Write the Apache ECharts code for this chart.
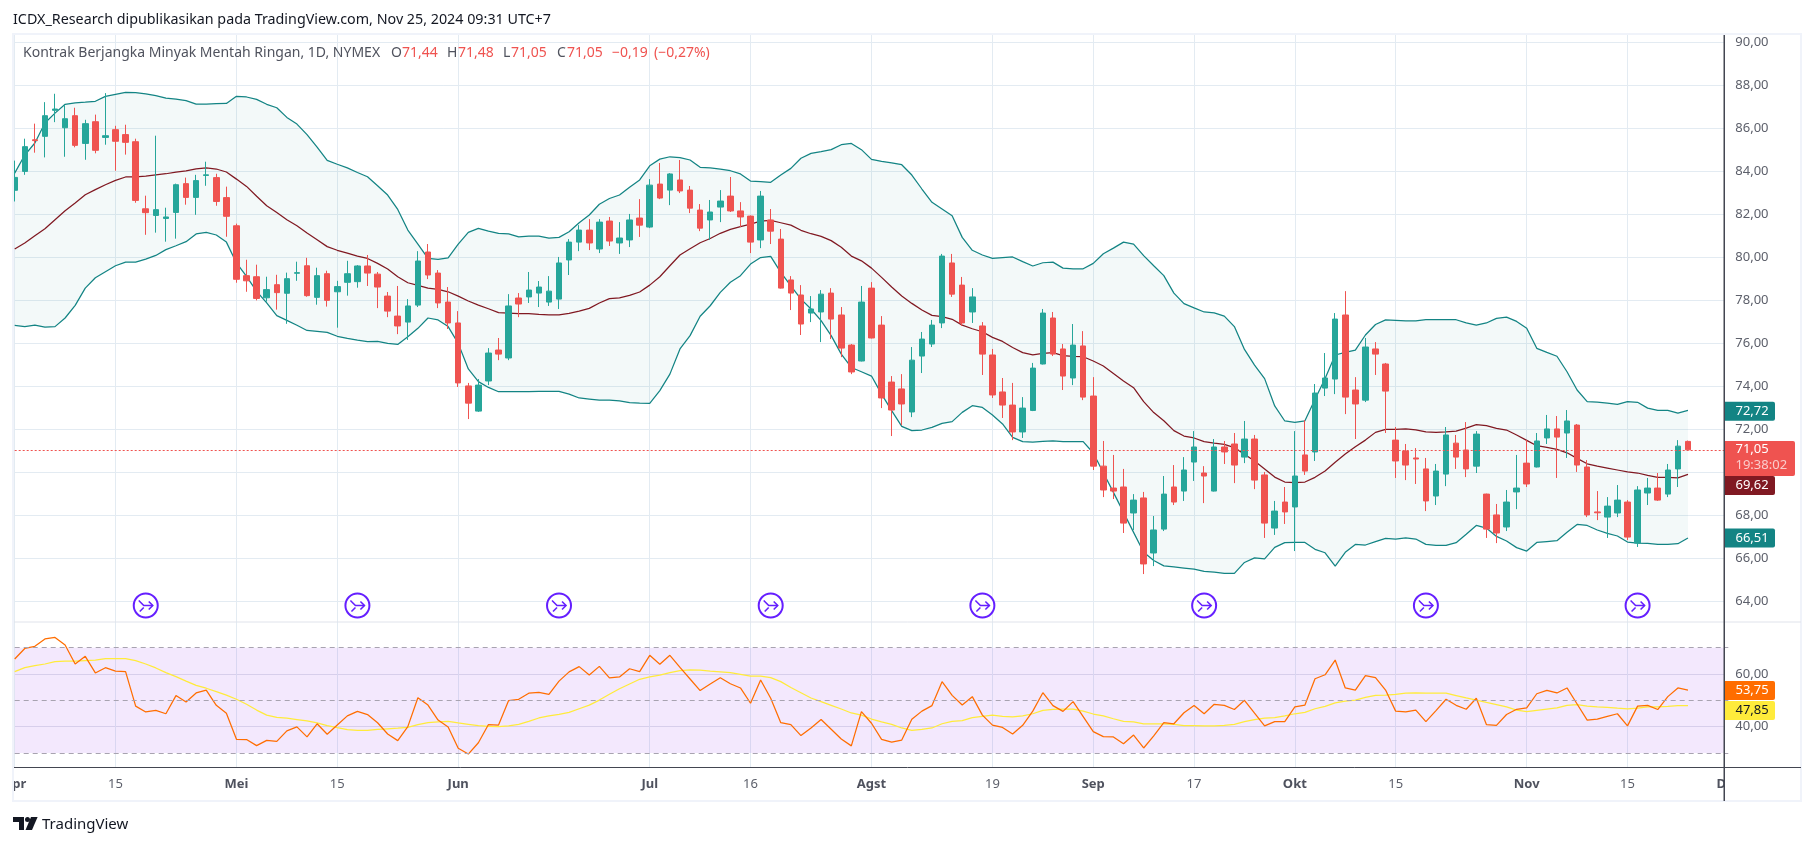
<!DOCTYPE html>
<html><head><meta charset="utf-8">
<style>html,body{margin:0;padding:0;background:#fff}#c{width:1814px;height:846px}</style>
<script src="https://cdn.jsdelivr.net/npm/echarts@6/dist/echarts.min.js"></script>
</head><body><div id="c"></div>
<script>
const categories = ['04-01','04-02','04-03','04-04','04-05','04-08','04-09','04-10','04-11','04-12','04-15','04-16','04-17','04-18','04-19','04-22','04-23','04-24','04-25','04-26','04-29','04-30','05-01','05-02','05-03','05-06','05-07','05-08','05-09','05-10','05-13','05-14','05-15','05-16','05-17','05-20','05-21','05-22','05-23','05-24','05-28','05-29','05-30','05-31','06-03','06-04','06-05','06-06','06-07','06-10','06-11','06-12','06-13','06-14','06-17','06-18','06-20','06-21','06-24','06-25','06-26','06-27','06-28','07-01','07-02','07-03','07-05','07-08','07-09','07-10','07-11','07-12','07-15','07-16','07-17','07-18','07-19','07-22','07-23','07-24','07-25','07-26','07-29','07-30','07-31','08-01','08-02','08-05','08-06','08-07','08-08','08-09','08-12','08-13','08-14','08-15','08-16','08-19','08-20','08-21','08-22','08-23','08-26','08-27','08-28','08-29','08-30','09-03','09-04','09-05','09-06','09-09','09-10','09-11','09-12','09-13','09-16','09-17','09-18','09-19','09-20','09-23','09-24','09-25','09-26','09-27','09-30','10-01','10-02','10-03','10-04','10-07','10-08','10-09','10-10','10-11','10-14','10-15','10-16','10-17','10-18','10-21','10-22','10-23','10-24','10-25','10-28','10-29','10-30','10-31','11-01','11-04','11-05','11-06','11-07','11-08','11-11','11-12','11-13','11-14','11-15','11-18','11-19','11-20','11-21','11-22','11-25','11-26','11-27','11-29','12-02'];
const opens = [83.12,84.00,85.47,85.63,86.84,86.03,86.59,85.30,86.31,85.58,85.94,85.71,85.38,82.26,81.95,81.81,82.09,83.43,82.79,83.81,83.71,82.78,81.47,79.15,79.10,78.12,78.73,78.33,79.26,79.61,78.14,79.24,78.40,78.84,78.87,79.60,79.22,78.20,77.27,76.99,77.78,80.25,79.27,77.92,76.95,74.02,72.85,74.25,75.69,75.32,78.11,78.16,78.34,77.92,78.06,79.88,80.71,81.27,80.39,81.69,80.67,80.81,81.83,81.41,83.41,83.13,83.60,83.13,82.20,81.74,82.34,82.85,82.16,81.92,80.81,81.74,80.85,78.95,78.25,77.41,77.46,78.34,77.32,75.92,75.18,78.57,76.85,74.20,73.88,72.81,75.41,75.97,76.95,79.74,78.71,77.46,76.81,75.46,73.74,73.13,71.88,72.88,75.04,77.18,75.74,74.39,75.88,73.55,70.29,69.27,69.32,68.11,68.81,66.25,67.36,69.32,69.13,70.48,69.97,69.13,71.18,71.32,70.71,71.55,69.88,67.41,68.62,68.39,70.81,70.95,73.92,74.34,77.32,73.83,73.36,75.74,75.04,71.50,70.99,70.67,70.16,68.90,69.92,71.36,71.04,70.29,68.99,68.02,67.46,69.09,70.43,70.25,71.60,72.02,71.83,72.20,70.25,68.16,67.92,68.11,68.62,66.71,69.04,69.27,68.99,70.16,71.44];
const highs = [84.50,85.52,86.22,87.22,87.61,87.10,86.96,86.40,86.64,87.64,86.12,86.17,85.52,82.87,85.66,82.31,83.43,83.71,83.84,84.45,83.89,83.29,81.57,79.89,79.66,79.10,79.19,79.29,79.80,79.98,79.52,79.38,78.91,79.84,79.64,80.11,79.32,78.39,78.67,78.06,80.29,80.62,79.41,78.62,77.50,74.16,74.34,75.78,76.25,78.29,78.34,79.32,78.90,79.13,80.02,80.85,81.50,81.78,81.78,81.88,81.64,82.02,82.71,83.64,84.39,83.92,84.53,83.32,82.48,82.67,83.13,83.74,82.57,81.95,83.09,82.25,81.32,79.13,78.71,78.20,78.48,78.57,77.69,75.97,78.67,78.85,77.27,74.48,74.57,75.83,76.53,77.09,80.16,80.16,79.09,78.57,76.99,75.74,74.39,74.16,73.50,75.09,77.60,77.46,75.97,76.90,76.57,74.43,71.46,70.81,70.16,68.99,69.09,67.97,69.83,70.34,70.71,71.92,70.29,71.55,71.46,71.83,72.39,71.74,70.02,68.67,69.32,71.92,72.43,74.11,75.55,77.41,78.43,74.43,76.25,76.06,75.09,72.11,71.32,71.13,70.67,70.39,72.11,71.74,72.34,71.92,69.01,68.53,69.18,70.81,71.50,71.83,72.67,72.62,72.90,72.25,70.57,69.13,68.85,69.41,68.71,69.36,69.74,69.97,70.39,71.50,71.48];
const lows = [82.60,83.84,84.87,84.65,86.29,84.68,85.12,84.54,84.84,85.24,84.03,84.78,82.54,81.05,81.15,80.73,80.87,82.45,81.98,83.33,82.40,80.96,78.82,78.40,78.00,77.94,77.57,76.91,78.91,78.17,77.80,77.71,76.73,78.22,78.59,78.67,77.64,77.22,76.43,76.16,77.69,78.99,77.64,76.67,73.97,72.48,72.81,74.06,75.22,75.22,77.22,77.88,77.69,77.74,77.60,79.18,80.29,80.34,80.20,80.53,80.16,80.48,80.95,81.36,82.71,82.43,82.99,82.06,81.22,80.81,81.64,82.11,81.41,80.20,80.43,80.62,78.55,77.55,76.39,76.99,76.06,76.20,75.36,74.57,75.16,76.23,72.99,71.69,72.20,72.57,74.62,75.83,76.71,78.16,76.81,76.95,74.53,73.46,72.53,71.50,71.60,72.85,75.02,75.41,73.83,74.06,73.36,70.11,68.85,68.76,67.18,67.32,65.27,65.64,67.27,68.48,68.67,69.60,68.57,69.11,70.39,69.50,70.43,69.22,66.95,67.09,67.60,66.34,69.88,70.53,73.55,73.64,72.71,71.55,73.27,74.53,71.83,69.74,69.64,69.46,68.20,68.48,69.36,70.16,69.78,69.97,66.95,66.71,67.27,68.29,69.32,70.23,71.32,69.74,70.67,70.02,67.92,67.78,66.95,67.92,66.85,66.53,68.48,68.67,68.85,69.32,71.05];
const closes = [83.72,85.15,85.43,86.59,86.90,86.45,85.21,86.22,84.98,85.66,85.40,85.35,82.65,82.08,82.22,81.88,83.38,82.79,83.57,83.84,82.60,81.91,78.98,78.91,78.09,78.50,78.36,79.01,79.29,78.22,79.15,78.00,78.64,79.24,79.60,79.27,78.62,77.50,76.81,77.74,79.83,79.18,77.88,76.95,74.16,73.22,74.06,75.55,75.50,77.74,77.83,78.48,78.62,78.43,79.74,80.71,81.27,80.67,81.64,80.76,80.90,81.74,81.50,83.36,82.76,83.88,83.09,82.29,81.36,82.11,82.62,82.16,81.88,80.71,82.85,81.22,78.57,78.34,76.90,77.60,78.29,77.13,75.78,74.67,77.92,76.25,73.46,72.90,73.18,75.22,76.20,76.85,80.06,78.29,76.95,78.16,75.50,73.60,73.13,71.88,72.99,74.85,77.41,75.50,74.48,75.92,73.50,70.29,69.18,69.13,67.64,68.71,65.74,67.32,68.99,68.62,70.11,71.18,69.83,71.18,70.95,70.34,71.55,69.64,67.64,68.20,68.16,69.83,70.06,73.69,74.39,77.13,73.50,73.18,75.83,75.50,73.78,70.53,70.34,70.62,68.67,70.06,71.74,70.71,70.16,71.78,67.36,67.18,68.62,69.27,69.46,71.46,72.02,71.64,72.39,70.34,68.02,68.12,68.43,68.71,66.99,69.18,69.27,68.71,70.11,71.22,71.05];
const bbUpper = [83.92,84.76,85.32,86.25,86.71,87.12,87.19,87.22,87.26,87.49,87.58,87.67,87.66,87.60,87.52,87.41,87.36,87.29,87.13,87.13,87.15,87.16,87.49,87.46,87.35,87.12,86.96,86.51,86.20,85.71,85.13,84.51,84.33,84.16,83.95,83.75,83.33,82.90,82.23,81.27,80.62,79.95,79.91,79.98,80.62,81.16,81.35,81.22,81.12,81.09,80.95,80.99,80.99,80.90,80.93,81.19,81.61,81.97,82.47,82.74,82.90,83.26,83.60,84.26,84.57,84.68,84.64,84.53,84.19,84.16,84.11,84.03,83.88,83.55,83.52,83.49,83.83,84.14,84.61,84.84,84.92,85.01,85.24,85.30,85.01,84.56,84.47,84.40,84.31,83.83,83.18,82.56,82.25,81.94,80.93,80.33,80.11,79.95,79.99,80.02,79.80,79.60,79.75,79.78,79.50,79.47,79.47,79.72,80.17,80.43,80.71,80.62,80.08,79.61,79.15,78.34,77.85,77.65,77.46,77.42,77.27,76.78,75.72,74.99,74.36,73.09,72.39,72.33,72.40,73.40,74.37,75.46,75.58,75.69,76.39,76.88,77.09,77.07,77.05,77.05,77.10,77.10,77.10,77.10,76.95,76.85,76.95,77.16,77.22,77.02,76.70,75.77,75.58,75.40,74.68,73.83,73.29,73.27,73.22,73.16,73.29,73.26,72.99,72.88,72.88,72.76,72.88];
const bbMid = [80.39,80.67,81.01,81.33,81.75,82.17,82.53,82.91,83.15,83.38,83.58,83.74,83.74,83.78,83.84,83.89,83.97,84.02,84.12,84.16,84.11,83.97,83.64,83.30,82.84,82.40,82.09,81.75,81.47,81.13,80.82,80.50,80.33,80.20,80.06,79.95,79.72,79.46,79.10,78.82,78.70,78.57,78.51,78.40,78.20,77.97,77.78,77.61,77.43,77.41,77.38,77.38,77.35,77.33,77.33,77.40,77.50,77.63,77.88,78.08,78.12,78.23,78.39,78.71,79.10,79.61,80.11,80.40,80.68,80.88,81.12,81.30,81.43,81.55,81.69,81.72,81.61,81.50,81.26,81.10,80.98,80.78,80.47,80.06,79.84,79.50,79.07,78.62,78.20,77.86,77.55,77.30,77.24,77.12,76.85,76.68,76.54,76.28,76.09,75.81,75.57,75.47,75.53,75.57,75.43,75.40,75.38,75.18,74.95,74.60,74.25,73.94,73.29,72.78,72.40,71.94,71.69,71.60,71.43,71.36,71.30,71.15,70.84,70.53,70.16,69.78,69.55,69.52,69.55,69.77,70.06,70.47,70.85,71.19,71.50,71.86,72.00,72.00,72.02,71.98,71.88,71.86,71.88,71.92,72.06,72.22,72.17,72.05,71.97,71.74,71.49,71.24,71.16,71.07,70.91,70.65,70.40,70.29,70.20,70.11,70.02,69.97,69.86,69.77,69.77,69.74,69.91];
const bbLower = [76.84,76.78,76.85,76.76,76.78,77.18,77.77,78.57,79.05,79.33,79.61,79.78,79.78,79.92,80.09,80.36,80.54,80.73,81.09,81.16,81.04,80.71,79.74,79.12,78.42,77.88,77.29,77.07,76.84,76.60,76.56,76.51,76.33,76.23,76.15,76.08,76.09,76.00,75.95,76.31,76.70,77.18,77.09,76.78,76.00,74.81,74.22,73.95,73.75,73.75,73.75,73.75,73.77,73.77,73.77,73.64,73.46,73.41,73.36,73.36,73.32,73.24,73.22,73.21,73.80,74.57,75.74,76.36,77.26,77.75,78.37,78.84,79.15,79.69,79.99,80.05,79.30,78.68,78.06,77.60,77.06,76.36,75.50,74.88,74.68,74.48,73.64,72.87,72.14,71.94,71.97,72.09,72.28,72.36,72.79,73.10,73.02,72.67,72.25,71.63,71.43,71.41,71.44,71.46,71.43,71.43,71.43,70.90,69.98,69.07,68.14,67.21,66.28,65.90,65.65,65.60,65.55,65.50,65.39,65.36,65.30,65.30,65.81,66.02,65.98,66.51,66.73,66.74,66.74,66.42,66.26,65.64,66.28,66.65,66.62,66.78,66.93,66.90,66.95,66.90,66.65,66.60,66.60,66.73,67.12,67.53,67.41,67.02,66.81,66.50,66.34,66.74,66.78,66.82,67.21,67.58,67.53,67.32,67.16,67.04,66.76,66.71,66.70,66.65,66.65,66.68,66.95];
const rsiLine = [65.7,69.7,70.5,73.3,73.9,71.0,63.8,66.7,60.4,62.4,61.1,60.9,47.8,45.6,46.2,44.9,51.8,49.4,52.8,53.9,48.1,45.1,35.2,35.1,32.8,34.8,34.4,38.4,39.9,36.1,41.1,37.1,40.6,44.1,45.8,44.6,41.5,37.2,34.7,40.0,51.0,48.2,42.5,39.9,31.8,29.6,33.9,40.8,40.6,49.9,50.4,52.7,53.0,52.3,57.3,60.8,62.8,59.6,62.9,58.5,58.9,62.0,60.9,67.1,63.7,67.1,62.5,58.1,53.7,56.2,58.6,56.3,54.7,48.9,57.7,50.8,41.5,40.8,36.6,39.5,42.7,39.0,35.3,32.7,45.7,41.3,35.2,34.1,34.9,42.8,45.9,48.0,57.1,51.9,48.2,51.4,44.4,40.6,39.7,37.2,40.5,45.9,52.9,48.0,45.8,49.5,43.8,38.1,36.2,36.1,33.5,36.8,31.9,36.5,41.5,41.1,45.3,48.0,44.9,48.5,48.1,46.5,50.0,45.1,40.3,41.9,41.9,47.5,48.2,58.2,59.7,65.3,54.7,53.9,59.4,58.6,53.9,45.9,45.6,46.3,41.9,46.1,50.4,48.1,46.6,50.8,40.8,40.5,44.6,46.6,47.1,52.5,53.8,52.8,54.7,48.6,42.5,42.9,43.9,44.9,40.3,47.8,48.1,46.5,51.4,54.7,53.9];
const rsiMa = [60.9,62.4,63.2,63.8,64.7,64.9,64.9,65.1,65.3,65.8,65.8,65.8,65.1,63.8,62.3,60.5,59.0,57.3,55.7,54.6,53.3,52.0,50.4,48.5,46.3,44.4,43.5,43.2,42.7,42.2,41.4,40.4,39.6,38.9,38.6,38.6,39.0,39.2,39.4,39.7,40.8,41.5,41.8,42.0,41.4,40.9,40.4,40.1,40.0,40.3,40.9,42.0,43.3,44.1,44.7,45.4,46.8,48.2,50.1,52.3,54.4,56.2,58.0,58.9,59.6,60.5,61.3,61.6,61.5,61.1,60.8,60.5,59.9,59.2,59.2,58.6,57.1,54.9,52.9,50.9,49.5,48.1,46.7,45.2,44.4,42.9,41.8,40.9,39.5,38.6,39.0,39.5,41.1,42.0,42.3,43.4,43.9,44.4,43.9,43.7,44.1,44.9,46.2,46.6,46.7,46.7,45.9,44.8,44.1,43.0,42.0,41.8,41.1,41.1,41.1,40.9,40.4,40.4,40.3,40.3,40.5,40.9,41.9,42.7,43.2,43.4,44.1,44.9,45.4,46.8,47.7,49.0,49.7,50.1,51.1,51.9,52.0,52.3,52.7,52.8,52.7,52.7,52.7,51.8,50.9,50.1,49.2,48.4,47.5,46.3,45.7,46.2,46.7,47.1,48.1,48.4,47.8,47.5,47.3,47.0,46.8,47.0,47.5,47.5,47.7,48.0,48.0];
const tickCats = ['04-01','04-15','05-01','05-15','06-03','07-01','07-16','08-01','08-19','09-03','09-17','10-01','10-15','11-01','11-15','12-02'];
const tickTexts = ['Apr','15','Mei','15','Jun','Jul','16','Agst','19','Sep','17','Okt','15','Nov','15','Des'];
const priceTicks = [64,66,68,70,72,74,76,78,80,82,84,86,88,90];
const rsiTicks = [40,60];
const rsiLevels = [70,50,30];
const lastPrice = 71.05;
const eventCats = ['04-18','05-17','06-17','07-18','08-16','09-18','10-18','11-18'];
const eventLevel = 63.81;

const FONT = 'Noto Sans';
const TXT = '#5d606b';
const commaFmt = v => Number(v).toFixed(2).replace('.', ',');
const tickIdx = tickCats.map(c => categories.indexOf(c));
const isTick = i => tickIdx.indexOf(i) >= 0;
const candleData = opens.map((o, i) => [o, closes[i], lows[i], highs[i]]);
const bbDiff = bbUpper.map((u, i) => +(u - bbLower[i]).toFixed(2));

const GL = 14.7, BAR = 10.08, GW = BAR * (categories.length - 1);
const GRIDC = '#e3ebf2';
const LW = 1.25;
const gridLine = { show: true, interval: (i) => isTick(i), lineStyle: { color: GRIDC, width: 1 } };
const tag = (y, h, w, bg, fg, txt) => [
  { type: 'rect', z: 20, shape: { x: 1725, y: y - h / 2, width: w, height: h, r: [0, 2, 2, 0] }, style: { fill: bg } },
  { type: 'text', z: 21, x: 1735.5, y: y, style: { text: txt, fill: fg, font: '13px ' + JSON.stringify(FONT), verticalAlign: 'middle' } }
];
const legendText = (x, txt, col) => ({ type: 'text', z: 8, x: x, y: 53, style: { text: txt, fill: col, font: '14px "Noto Sans"', verticalAlign: 'middle' } });
const GRAY = '#50535e', RED = '#ef5350';

const chart = echarts.init(document.getElementById('c'), null, { renderer: 'canvas', width: 1814, height: 846 });
chart.setOption({
  animation: false,
  backgroundColor: '#ffffff',
  textStyle: { fontFamily: FONT },
  tooltip: { show: false },
  grid: [
    { left: GL, top: 34, width: GW, height: 588 },
    { left: GL, top: 622, width: GW, height: 145 }
  ],
  xAxis: [
    { type: 'category', gridIndex: 0, data: categories, boundaryGap: false,
      axisLine: { show: false }, axisTick: { show: false }, axisLabel: { show: false }, splitLine: gridLine },
    { type: 'category', gridIndex: 1, data: categories, boundaryGap: false,
      axisLine: { show: false }, axisTick: { show: false }, splitLine: gridLine,
      axisLabel: { show: true, interval: (i) => isTick(i), margin: 11, hideOverlap: false, showMinLabel: true, showMaxLabel: true,
        formatter: (v) => { const k = tickCats.indexOf(v); if (k < 0) return ''; const t = tickTexts[k]; return /^\d/.test(t) ? '{d|' + t + '}' : '{m|' + t + '}'; },
        rich: { d: { color: TXT, fontSize: 13, fontFamily: FONT }, m: { color: '#4f525e', fontSize: 13, fontWeight: 'bold', fontFamily: FONT } } } }
  ],
  yAxis: [
    { type: 'value', gridIndex: 0, min: 63.04, max: 90.39, position: 'right', scale: true,
      axisLine: { show: false }, axisLabel: { show: false },
      axisTick: { show: false, customValues: priceTicks },
      splitLine: { show: true, lineStyle: { color: GRIDC, width: 1 } } },
    { type: 'value', gridIndex: 0, min: 63.04, max: 90.39, position: 'right', z: 10, scale: true,
      axisLine: { show: false }, splitLine: { show: false }, axisTick: { show: false, customValues: priceTicks },
      axisLabel: { show: true, customValues: priceTicks, margin: 7, color: TXT, fontSize: 13, fontFamily: FONT, align: 'left', formatter: commaFmt, showMinLabel: true, showMaxLabel: true } },
    { type: 'value', gridIndex: 1, min: 24.68, max: 79.75, position: 'right', scale: true,
      axisLine: { show: false }, axisLabel: { show: false },
      axisTick: { show: false, customValues: rsiTicks },
      splitLine: { show: true, lineStyle: { color: '#e0e3eb', width: 1 } } },
    { type: 'value', gridIndex: 1, min: 24.68, max: 79.75, position: 'right', z: 10, scale: true,
      axisLine: { show: false }, splitLine: { show: false }, axisTick: { show: false, customValues: rsiTicks },
      axisLabel: { show: true, customValues: rsiTicks, margin: 7, color: TXT, fontSize: 13, fontFamily: FONT, align: 'left', formatter: commaFmt } }
  ],
  series: [
    { name: 'BB base', type: 'line', xAxisIndex: 0, yAxisIndex: 0, stack: 'bb', data: bbLower, symbol: 'none', lineStyle: { width: 0 }, silent: true, z: 1 },
    { name: 'BB fill', type: 'line', xAxisIndex: 0, yAxisIndex: 0, stack: 'bb', data: bbDiff, symbol: 'none', lineStyle: { width: 0 }, areaStyle: { color: 'rgba(19,132,132,0.05)', opacity: 1 }, silent: true, z: 1 },
    { name: 'BB atas', type: 'line', xAxisIndex: 0, yAxisIndex: 0, data: bbUpper, symbol: 'none', lineStyle: { color: '#138484', width: LW }, silent: true, z: 2 },
    { name: 'BB bawah', type: 'line', xAxisIndex: 0, yAxisIndex: 0, data: bbLower, symbol: 'none', lineStyle: { color: '#138484', width: LW }, silent: true, z: 2 },
    { name: 'BB tengah', type: 'line', xAxisIndex: 0, yAxisIndex: 0, data: bbMid, symbol: 'none', lineStyle: { color: '#801922', width: LW }, silent: true, z: 2 },
    { name: 'Harga', type: 'candlestick', xAxisIndex: 0, yAxisIndex: 0, data: candleData, barWidth: 6, silent: true, z: 3,
      itemStyle: { color: '#26a69a', color0: '#ef5350', borderColor: '#26a69a', borderColor0: '#ef5350', borderWidth: 1 },
      markLine: { silent: true, symbol: 'none', label: { show: false }, animation: false,
        lineStyle: { color: '#ef5350', type: [2, 2], width: 1 }, data: [{ yAxis: lastPrice }] } },
    { name: 'Peristiwa', type: 'custom', xAxisIndex: 0, yAxisIndex: 0, silent: true, z: 4, clip: false,
      data: eventCats.map(c => [categories.indexOf(c), eventLevel]), encode: { x: 0, y: 1 },
      renderItem: (p, api) => {
        const c = api.coord([api.value(0), api.value(1)]);
        const s = { stroke: '#651fff', fill: 'none', lineWidth: 1.6 };
        return { type: 'group', x: c[0], y: c[1], children: [
          { type: 'circle', shape: { cx: 0, cy: 0, r: 12 }, style: { stroke: '#651fff', fill: '#ffffff', lineWidth: 2 } },
          { type: 'polyline', shape: { points: [[-7, -5], [-2, 0], [7, 0]] }, style: s },
          { type: 'polyline', shape: { points: [[3, -4], [7, 0], [3, 4]] }, style: s },
          { type: 'polyline', shape: { points: [[-6, 6], [-2, 2]] }, style: s }
        ] };
      } },
    { name: 'RSI MA', type: 'line', xAxisIndex: 1, yAxisIndex: 2, data: rsiMa, symbol: 'none', lineStyle: { color: '#ffeb3b', width: LW }, silent: true, z: 3,
      markArea: { silent: true, itemStyle: { color: 'rgba(140,30,240,0.1)' }, data: [[{ yAxis: rsiLevels[0] }, { yAxis: rsiLevels[2] }]] },
      markLine: { silent: true, symbol: 'none', label: { show: false }, lineStyle: { color: '#a8a3b0', type: [5, 4], width: 1 }, data: rsiLevels.map(v => ({ yAxis: v })) } },
    { name: 'RSI', type: 'line', xAxisIndex: 1, yAxisIndex: 2, data: rsiLine, symbol: 'none', lineStyle: { color: '#ff6d00', width: LW }, silent: true, z: 4 }
  ],
  graphic: { elements: [
    { type: 'rect', z: 5, shape: { x: 0, y: 0, width: 13, height: 846 }, style: { fill: '#ffffff' } },
    { type: 'rect', z: 5, shape: { x: 1725, y: 0, width: 89, height: 846 }, style: { fill: '#ffffff' } },
    { type: 'rect', z: 6, shape: { x: 13, y: 34, width: 1788, height: 767 }, style: { fill: 'none', stroke: '#f0f3fa', lineWidth: 2 } },
    { type: 'line', z: 6, shape: { x1: 14, y1: 622, x2: 1801, y2: 622 }, style: { stroke: '#e0e3eb', lineWidth: 1 } },
    { type: 'line', z: 7, shape: { x1: 14, y1: 767.5, x2: 1801, y2: 767.5 }, style: { stroke: '#434651', lineWidth: 1 } },
    { type: 'rect', z: 7, shape: { x: 1723.5, y: 35, width: 1.5, height: 766 }, style: { fill: '#434651' } },
    { type: 'text', z: 8, x: 13, y: 20, style: { text: 'ICDX_Research dipublikasikan pada TradingView.com, Nov 25, 2024 09:31 UTC+7', fill: '#131722', font: '14.3px "Noto Sans"', verticalAlign: 'middle' } },
    legendText(23, 'Kontrak Berjangka Minyak Mentah Ringan, 1D, NYMEX', GRAY),
    legendText(391, 'O', GRAY), legendText(402, '71,44', RED),
    legendText(447, 'H', GRAY), legendText(458, '71,48', RED),
    legendText(503, 'L', GRAY), legendText(511, '71,05', RED),
    legendText(557, 'C', GRAY), legendText(567, '71,05', RED),
    legendText(612, '\u22120,19', RED),
    legendText(654, '(\u22120,27%)', RED),
    ...tag(411.3, 19, 50, '#138484', '#ffffff', '72,72'),
    { type: 'rect', z: 20, shape: { x: 1725, y: 441, width: 70, height: 35, r: [0, 2, 2, 0] }, style: { fill: '#ef5350' } },
    { type: 'text', z: 21, x: 1735.5, y: 449.5, style: { text: '71,05', fill: '#ffffff', font: '13px "Noto Sans"', verticalAlign: 'middle' } },
    { type: 'text', z: 21, x: 1735.5, y: 465.5, style: { text: '19:38:02', fill: 'rgba(255,255,255,0.7)', font: '13px "Noto Sans"', verticalAlign: 'middle' } },
    ...tag(485.5, 19, 50, '#801922', '#ffffff', '69,62'),
    ...tag(538, 19, 50, '#138484', '#ffffff', '66,51'),
    ...tag(690.5, 19, 50, '#ff6d00', '#ffffff', '53,75'),
    ...tag(710.5, 19, 50, '#ffeb3b', '#131722', '47,85'),
    { type: 'group', z: 8, children: [
      { type: 'polygon', z: 8, shape: { points: [[13, 817], [24, 817], [24, 830], [19, 830], [19, 822], [13, 822]] }, style: { fill: '#131722' } },
      { type: 'circle', z: 8, shape: { cx: 27.5, cy: 819.5, r: 2.5 }, style: { fill: '#131722' } },
      { type: 'polygon', z: 8, shape: { points: [[31, 817], [37.6, 817], [32, 830], [25.5, 830]] }, style: { fill: '#131722' } }
    ] },
    { type: 'text', z: 8, x: 42, y: 825, style: { text: 'TradingView', fill: '#131722', font: '15px "Noto Sans"', verticalAlign: 'middle' } }
  ] }
});
</script></body></html>
